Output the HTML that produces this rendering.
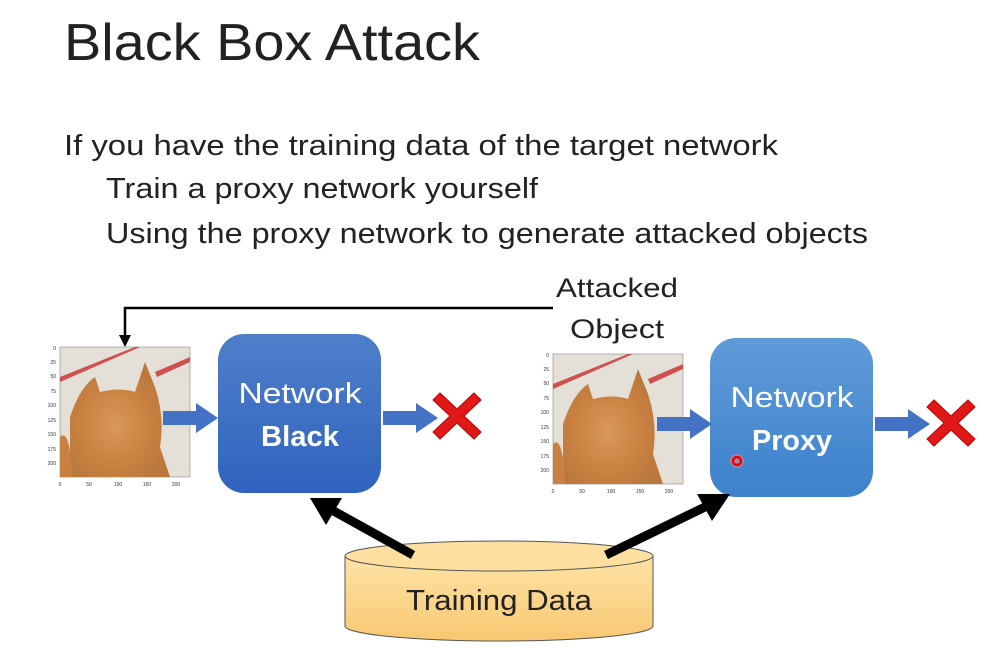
<!DOCTYPE html>
<html><head><meta charset="utf-8"><style>
html,body{margin:0;padding:0;background:#fff;width:993px;height:665px;overflow:hidden}
svg{display:block}
text{font-family:"Liberation Sans",sans-serif}
</style></head><body>
<svg width="993" height="665" viewBox="0 0 993 665" xmlns="http://www.w3.org/2000/svg">
<defs>
<linearGradient id="bk" x1="0" y1="0" x2="0" y2="1"><stop offset="0" stop-color="#4f7fca"/><stop offset="1" stop-color="#2f63be"/></linearGradient>
<linearGradient id="px" x1="0" y1="0" x2="0" y2="1"><stop offset="0" stop-color="#5f9ad8"/><stop offset="1" stop-color="#3d82cc"/></linearGradient>
<linearGradient id="cy" x1="0" y1="0" x2="0" y2="1"><stop offset="0" stop-color="#fde3a6"/><stop offset="1" stop-color="#f8c872"/></linearGradient>
<radialGradient id="cat" cx="0.45" cy="0.55" r="0.6"><stop offset="0" stop-color="#d9985a"/><stop offset="0.6" stop-color="#c98040"/><stop offset="1" stop-color="#b8773d"/></radialGradient>
<g id="img">
<rect x="0" y="0" width="130" height="130" fill="#e4e0d8" stroke="#888" stroke-width="0.6"/>
<path d="M0 30 L75 0 L80 0 L0 35Z" fill="#d05050"/>
<path d="M95 25 L130 10 L130 15 L97 30Z" fill="#d05050"/>
<path d="M10 130 L10 70 Q20 40 35 30 L40 45 Q60 40 75 45 L85 15 L95 40 Q105 70 100 100 L110 130Z" fill="url(#cat)"/>
<path d="M0 90 Q10 80 12 130 L0 130Z" fill="#c98040"/>
<text x="-4" y="3" font-size="5" text-anchor="end" fill="#333">0</text>
<text x="-4" y="17" font-size="5" text-anchor="end" fill="#333">25</text>
<text x="-4" y="31" font-size="5" text-anchor="end" fill="#333">50</text>
<text x="-4" y="46" font-size="5" text-anchor="end" fill="#333">75</text>
<text x="-4" y="60" font-size="5" text-anchor="end" fill="#333">100</text>
<text x="-4" y="75" font-size="5" text-anchor="end" fill="#333">125</text>
<text x="-4" y="89" font-size="5" text-anchor="end" fill="#333">150</text>
<text x="-4" y="104" font-size="5" text-anchor="end" fill="#333">175</text>
<text x="-4" y="118" font-size="5" text-anchor="end" fill="#333">200</text>
<text x="0" y="139" font-size="5" text-anchor="middle" fill="#333">0</text>
<text x="29" y="139" font-size="5" text-anchor="middle" fill="#333">50</text>
<text x="58" y="139" font-size="5" text-anchor="middle" fill="#333">100</text>
<text x="87" y="139" font-size="5" text-anchor="middle" fill="#333">150</text>
<text x="116" y="139" font-size="5" text-anchor="middle" fill="#333">200</text>
</g>
<g id="x"><path d="M-24 -16 L-17 -23 L0 -7 L17 -23 L24 -16 L7 0 L24 16 L17 23 L0 7 L-17 23 L-24 16 L-7 0Z" fill="#e01818" stroke="#b00" stroke-width="1"/></g>
<g id="ba"><path d="M0 -7 L33 -7 L33 -15 L55 0 L33 15 L33 7 L0 7Z" fill="#4472c4"/></g>
</defs>
<text x="64" y="60" font-size="52" fill="#222" textLength="416" lengthAdjust="spacingAndGlyphs">Black Box Attack</text>
<text x="64" y="155" font-size="29" fill="#222" textLength="714" lengthAdjust="spacingAndGlyphs">If you have the training data of the target network</text>
<text x="106" y="198" font-size="29" fill="#222" textLength="432" lengthAdjust="spacingAndGlyphs">Train a proxy network yourself</text>
<text x="106" y="243" font-size="29" fill="#222" textLength="762" lengthAdjust="spacingAndGlyphs">Using the proxy network to generate attacked objects</text>
<text x="617" y="297" font-size="27" fill="#222" text-anchor="middle" textLength="122" lengthAdjust="spacingAndGlyphs">Attacked</text>
<text x="617" y="338" font-size="27" fill="#222" text-anchor="middle" textLength="94" lengthAdjust="spacingAndGlyphs">Object</text>
<path d="M553 308 L125 308 L125 338" fill="none" stroke="#000" stroke-width="2.5"/>
<path d="M119 335 L131 335 L125 347Z" fill="#000"/>
<use href="#img" x="60" y="347"/>
<use href="#img" x="553" y="354"/>
<rect x="218" y="334" width="163" height="159" rx="26" fill="url(#bk)"/>
<rect x="710" y="338" width="163" height="159" rx="26" fill="url(#px)"/>
<text x="300" y="403" font-size="29" fill="#fff" text-anchor="middle" textLength="123" lengthAdjust="spacingAndGlyphs">Network</text>
<text x="300" y="446" font-size="29" font-weight="bold" fill="#fff" text-anchor="middle" textLength="78" lengthAdjust="spacingAndGlyphs">Black</text>
<text x="792" y="407" font-size="29" fill="#fff" text-anchor="middle" textLength="123" lengthAdjust="spacingAndGlyphs">Network</text>
<text x="792" y="450" font-size="29" font-weight="bold" fill="#fff" text-anchor="middle" textLength="80" lengthAdjust="spacingAndGlyphs">Proxy</text>
<circle cx="737" cy="461" r="7" fill="#ff8080" opacity="0.5"/><circle cx="737" cy="461" r="4" fill="none" stroke="#e00" stroke-width="2.5"/>
<use href="#ba" x="163" y="418"/>
<use href="#ba" x="383" y="418"/>
<use href="#ba" x="657" y="424"/>
<use href="#ba" x="875" y="424"/>
<use href="#x" x="457" y="416"/>
<use href="#x" x="951" y="423"/>
<path d="M345 556 L345 626 A154 15 0 0 0 653 626 L653 556Z" fill="url(#cy)" stroke="#555" stroke-width="1"/>
<ellipse cx="499" cy="556" rx="154" ry="15" fill="#fde0a0" stroke="#555" stroke-width="1"/>
<text x="499" y="610" font-size="29" fill="#222" text-anchor="middle" textLength="186" lengthAdjust="spacingAndGlyphs">Training Data</text>
<line x1="413" y1="555" x2="330" y2="509" stroke="#000" stroke-width="9"/>
<path d="M310 498 L342 498 L326 525Z" fill="#000"/>
<line x1="606" y1="555" x2="705" y2="507" stroke="#000" stroke-width="9"/>
<path d="M730 494 L712 521 L697 494Z" fill="#000"/>
</svg>
</body></html>
